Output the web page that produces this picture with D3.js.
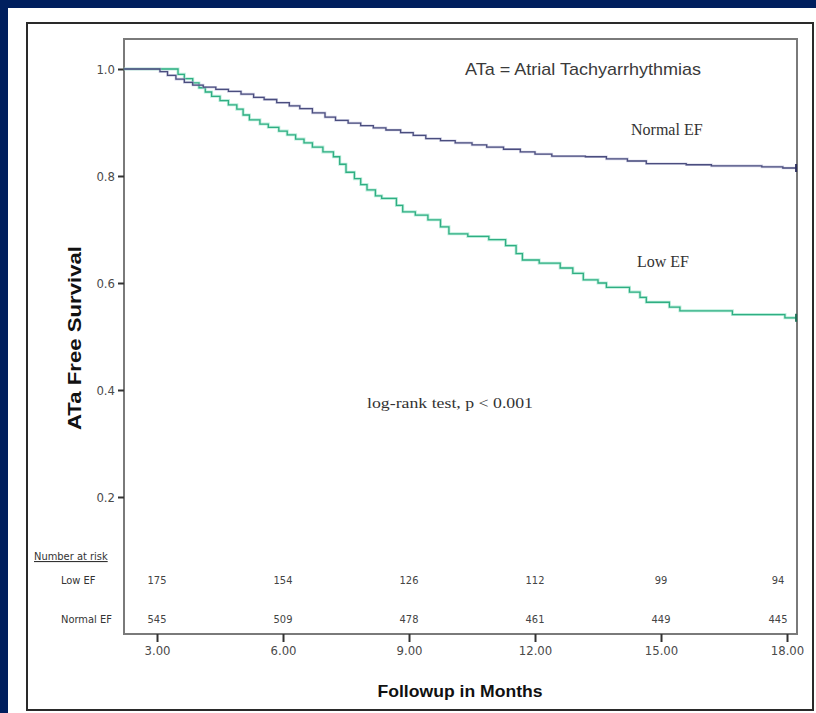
<!DOCTYPE html>
<html>
<head>
<meta charset="utf-8">
<script src="https://cdn.jsdelivr.net/npm/d3@7/dist/d3.min.js"></script>
<style>
  html, body { margin: 0; padding: 0; background: #001f5e; }
  svg { display: block; }
</style>
</head>
<body>
<script>
// Kaplan-Meier estimates: event times (months) and survival after each step
const normalTimes = [2.21, 3.07, 3.25, 3.45, 3.65, 3.85, 4.10, 4.40, 4.70, 5.00, 5.30, 5.55, 5.85, 6.15, 6.40, 6.70, 7.00, 7.25, 7.55, 7.85, 8.15, 8.45, 8.80, 9.10, 9.40, 9.75, 10.10, 10.50, 10.85, 11.25, 11.65, 12.00, 12.40, 13.20, 13.70, 14.20, 14.65, 15.60, 16.20, 17.40, 17.90, 18.24];
const normalSurv  = [1.000, 0.995, 0.988, 0.981, 0.975, 0.970, 0.966, 0.962, 0.958, 0.953, 0.947, 0.943, 0.937, 0.931, 0.926, 0.918, 0.910, 0.904, 0.899, 0.894, 0.890, 0.886, 0.881, 0.876, 0.870, 0.866, 0.862, 0.858, 0.854, 0.850, 0.845, 0.841, 0.837, 0.836, 0.832, 0.828, 0.823, 0.821, 0.819, 0.817, 0.815, 0.815];

const lowTimes = [2.21, 3.50, 3.65, 3.85, 4.00, 4.15, 4.30, 4.50, 4.70, 4.90, 5.05, 5.20, 5.45, 5.65, 5.90, 6.10, 6.30, 6.50, 6.70, 6.95, 7.20, 7.35, 7.50, 7.70, 7.85, 8.00, 8.20, 8.35, 8.70, 8.85, 9.15, 9.45, 9.75, 9.95, 10.40, 10.90, 11.30, 11.55, 11.70, 12.10, 12.60, 12.90, 13.15, 13.50, 13.70, 14.25, 14.50, 14.65, 15.20, 15.45, 16.70, 17.95, 18.24];
const lowSurv  = [1.000, 0.990, 0.982, 0.974, 0.965, 0.957, 0.949, 0.941, 0.933, 0.925, 0.914, 0.905, 0.897, 0.891, 0.884, 0.877, 0.869, 0.862, 0.854, 0.845, 0.836, 0.822, 0.807, 0.795, 0.784, 0.774, 0.763, 0.758, 0.745, 0.733, 0.727, 0.718, 0.705, 0.692, 0.687, 0.681, 0.670, 0.655, 0.643, 0.637, 0.628, 0.618, 0.606, 0.600, 0.592, 0.583, 0.573, 0.564, 0.555, 0.548, 0.541, 0.535, 0.535];

// Axis ticks
const xTicks = [3, 6, 9, 12, 15, 18];
const xTickLabels = ["3.00", "6.00", "9.00", "12.00", "15.00", "18.00"];
const yTicks = [0.2, 0.4, 0.6, 0.8, 1.0];
const yTickLabels = ["0.2", "0.4", "0.6", "0.8", "1.0"];

// Number at risk table
const riskGroups = ["Low EF", "Normal EF"];
const riskLow = [175, 154, 126, 112, 99, 94];
const riskNormal = [545, 509, 478, 461, 449, 445];

const W = 816, H = 713;
const svg = d3.select("body").append("svg").attr("width", W).attr("height", H);

// white sheet on the navy slide
svg.append("rect").attr("x", 8).attr("y", 8).attr("width", W - 8).attr("height", H - 8).attr("fill", "#ffffff");
// outer chart border
svg.append("rect").attr("x", 27).attr("y", 23).attr("width", 786).attr("height", 687)
  .attr("fill", "none").attr("stroke", "#2a2a2a").attr("stroke-width", 2);

const plot = { left: 124, top: 39, right: 797, bottom: 634 };
const x = d3.scaleLinear().domain([2.214, 18.238]).range([plot.left, plot.right]);
const y = d3.scaleLinear().domain([0, 1]).range([604, 69]);

const sansNarrow = "'Liberation Sans Narrow', 'DejaVu Sans Condensed', 'Liberation Sans', sans-serif";
const serif = "'Liberation Serif', 'DejaVu Serif', serif";
const sans = "'Liberation Sans', Arial, sans-serif";

// plot frame
svg.append("rect").attr("x", plot.left).attr("y", plot.top)
  .attr("width", plot.right - plot.left).attr("height", plot.bottom - plot.top)
  .attr("fill", "none").attr("stroke", "#7a7a7a").attr("stroke-width", 2);

// y axis
const yAxis = d3.axisLeft(y).tickValues(yTicks).tickFormat((d, i) => yTickLabels[i]).tickSize(6).tickPadding(3);
const gy = svg.append("g").attr("transform", `translate(${plot.left},0)`).call(yAxis);
gy.select(".domain").remove();
gy.selectAll(".tick line").attr("stroke", "#333").attr("stroke-width", 2);
gy.selectAll(".tick text").attr("fill", "#4a4a4a").style("font-family", sansNarrow).style("font-size", "13px");

// x axis
const xAxis = d3.axisBottom(x).tickValues(xTicks).tickFormat((d, i) => xTickLabels[i]).tickSize(8).tickPadding(4);
const gx = svg.append("g").attr("transform", `translate(0,${plot.bottom})`).call(xAxis);
gx.select(".domain").remove();
gx.selectAll(".tick line").attr("stroke", "#333").attr("stroke-width", 2);
gx.selectAll(".tick text").attr("fill", "#4a4a4a").style("font-family", sansNarrow).style("font-size", "13px");

// survival curves
const line = d3.line().x(d => x(d[0])).y(d => y(d[1])).curve(d3.curveStepAfter);
const normalPts = normalTimes.map((t, i) => [t, normalSurv[i]]);
const lowPts = lowTimes.map((t, i) => [t, lowSurv[i]]);

svg.append("path").datum(lowPts).attr("d", line).attr("fill", "none")
  .attr("stroke", "#8fe3c4").attr("stroke-width", 3).attr("opacity", 0.6);
svg.append("path").datum(lowPts).attr("d", line).attr("fill", "none")
  .attr("stroke", "#2fae82").attr("stroke-width", 1.3);
svg.append("path").datum(normalPts).attr("d", line).attr("fill", "none")
  .attr("stroke", "#b4b6d6").attr("stroke-width", 2.6).attr("opacity", 0.6);
svg.append("path").datum(normalPts).attr("d", line).attr("fill", "none")
  .attr("stroke", "#4a4d7e").attr("stroke-width", 1.3);

// censor marks at end of follow-up
[[normalTimes, normalSurv, "#2c2f5c"], [lowTimes, lowSurv, "#1f6e55"]].forEach(([t, s, c]) => {
  const n = t.length - 1;
  svg.append("line").attr("x1", x(t[n]) - 1).attr("x2", x(t[n]) - 1)
    .attr("y1", y(s[n]) - 4).attr("y2", y(s[n]) + 4).attr("stroke", c).attr("stroke-width", 2);
});

// annotations
svg.append("text").attr("x", 465).attr("y", 75)
  .attr("textLength", 236).attr("lengthAdjust", "spacingAndGlyphs")
  .style("font-family", sans).style("font-size", "17px")
  .attr("fill", "#3a3a3a").text("ATa = Atrial Tachyarrhythmias");
svg.append("text").attr("x", 631).attr("y", 135)
  .style("font-family", serif).style("font-size", "16px").attr("fill", "#333").text("Normal EF");
svg.append("text").attr("x", 637).attr("y", 267)
  .style("font-family", serif).style("font-size", "16px").attr("fill", "#333").text("Low EF");
svg.append("text").attr("x", 367).attr("y", 408)
  .style("font-family", serif).style("font-size", "15px").attr("fill", "#333")
  .attr("textLength", 166).attr("lengthAdjust", "spacingAndGlyphs")
  .text("log-rank test,  p < 0.001");

// axis titles
svg.append("text").attr("transform", "translate(81,338) rotate(-90)").attr("text-anchor", "middle")
  .attr("textLength", 184).attr("lengthAdjust", "spacingAndGlyphs")
  .style("font-family", sans).style("font-size", "18px").style("font-weight", "bold")
  .attr("fill", "#111").text("ATa Free Survival");
svg.append("text").attr("x", 460).attr("y", 697).attr("text-anchor", "middle")
  .attr("textLength", 165).attr("lengthAdjust", "spacingAndGlyphs")
  .style("font-family", sans).style("font-size", "17px").style("font-weight", "bold")
  .attr("fill", "#111").text("Followup in Months");

// number at risk table
svg.append("text").attr("x", 34).attr("y", 560)
  .style("font-family", sansNarrow).style("font-size", "11px").attr("fill", "#333")
  .style("text-decoration", "underline").text("Number at risk");
const rowY = [580, 619];
riskGroups.forEach((g, i) => {
  svg.append("text").attr("x", 61).attr("y", rowY[i] + 4)
    .style("font-family", sansNarrow).style("font-size", "11px").attr("fill", "#333").text(g);
});
[riskLow, riskNormal].forEach((row, i) => {
  svg.selectAll(null).data(row).enter().append("text")
    .attr("x", (d, j) => x(xTicks[j]) - (j === row.length - 1 ? 9 : 0))
    .attr("y", rowY[i] + 4).attr("text-anchor", "middle")
    .style("font-family", sansNarrow).style("font-size", "11px").attr("fill", "#444")
    .text(d => d);
});
</script>
</body>
</html>
